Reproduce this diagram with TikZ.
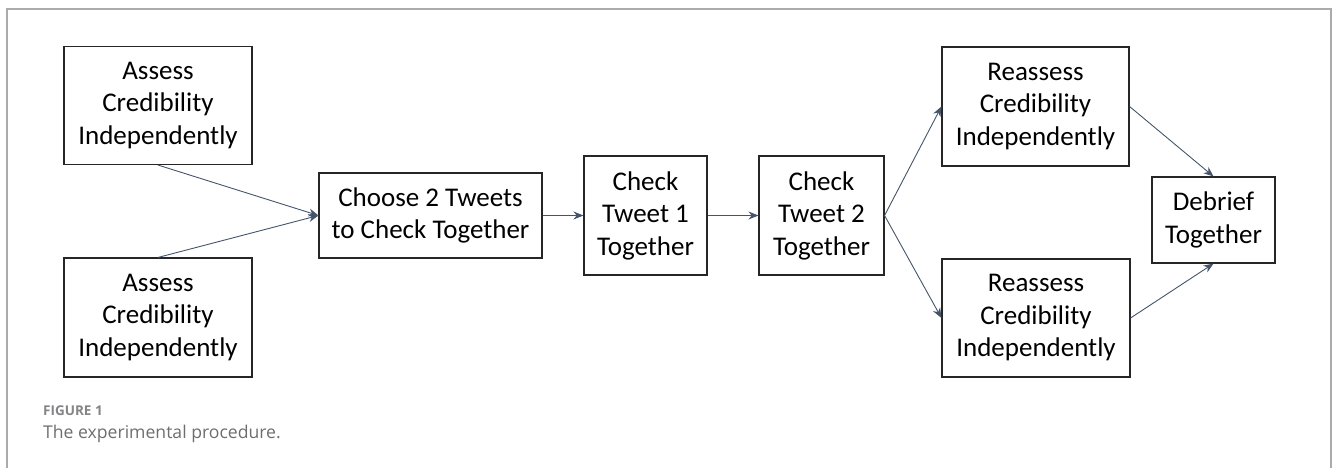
\documentclass[tikz,border=0pt]{standalone}
\usepackage{fontspec}
\setmainfont{Carlito}
\newfontfamily\capfont{Open Sans}
\usetikzlibrary{arrows.meta}
\definecolor{arrowgray}{HTML}{44546A}
\definecolor{framegray}{HTML}{ABABAB}
\definecolor{capgray}{HTML}{6D6E71}
\tikzset{
  stage/.style={draw=black!85, line width=1.1pt, align=center, inner sep=0pt,
    font=\fontsize{27}{32.5}\selectfont},
  flow/.style={draw=arrowgray, line width=0.9pt, -{Stealth[length=10pt,width=8pt]}}
}
\begin{document}
\begin{tikzpicture}[x=1pt, y=-1pt]
              \useasboundingbox (0,0) rectangle (1333,468);
              % frame
              \draw [framegray, line width=1.2pt] (7,468) -- (7,9) -- (1331,9) -- (1331,468);

              % stages
              \node[stage, minimum width=188pt, minimum height=118pt] (assessA) at (158,105.5) {Assess\\Credibility\\Independently};
              \node[stage, minimum width=188pt, minimum height=119pt] (assessB) at (158,317.5) {Assess\\Credibility\\Independently};
              \node[stage, minimum width=223pt, minimum height=85pt] (choose) at (430.5,215.5) {Choose 2 Tweets\\to Check Together};
              \node[stage, minimum width=123pt, minimum height=119pt] (checkA) at (645.5,215.5) {Check\\Tweet 1\\Together};
              \node[stage, minimum width=125pt, minimum height=119pt] (checkB) at (821.5,215.5) {Check\\Tweet 2\\Together};
              \node[stage, minimum width=187pt, minimum height=119pt] (reassessA) at (1035.5,106.5) {Reassess\\Credibility\\Independently};
              \node[stage, minimum width=188pt, minimum height=118pt] (reassessB) at (1036,318) {Reassess\\Credibility\\Independently};
              \node[stage, minimum width=123pt, minimum height=86pt] (debrief) at (1213.5,220) {Debrief\\Together};

              % connectors
              \draw [flow] (assessA.south) -- (choose.west);
              \draw [flow] (assessB.north) -- (choose.west);
              \draw [flow] (choose.east) -- (checkA.west);
              \draw [flow] (checkA.east) -- (checkB.west);
              \draw [flow] (checkB.east) -- (reassessA.west);
              \draw [flow] (checkB.east) -- (reassessB.west);
              \draw [flow] (reassessA.east) -- (debrief.north);
              \draw [flow] (reassessB.east) -- (debrief.south);

              % caption
              \node[anchor=base west, inner sep=0pt, text=capgray!85, font=\capfont\bfseries\fontsize{13.5}{16}\selectfont] (figlabel) at (43,415) {FIGURE 1};
              \node[anchor=base west, inner sep=0pt, text=capgray, font=\capfont\fontsize{17.6}{21}\selectfont] (figtext) at (43,438) {The experimental procedure.};
\end{tikzpicture}
\end{document}
